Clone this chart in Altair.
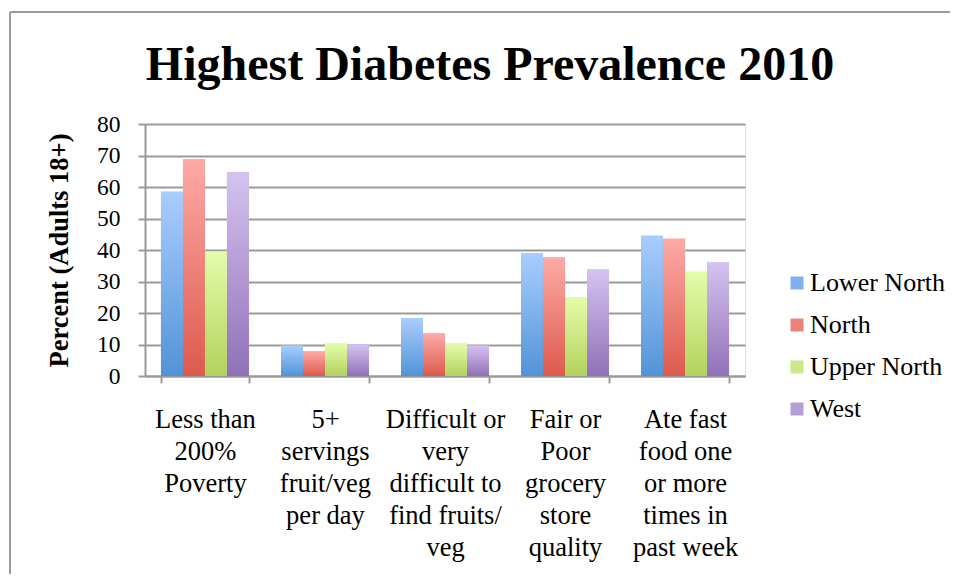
import altair as alt
import pandas as pd

categories = [
    "Less than\n200%\nPoverty",
    "5+\nservings\nfruit/veg\nper day",
    "Difficult or\nvery\ndifficult to\nfind fruits/\nveg",
    "Fair or\nPoor\ngrocery\nstore\nquality",
    "Ate fast\nfood one\nor more\ntimes in\npast week",
]
series = ["Lower North", "North", "Upper North", "West"]
lower_north = [58.5, 9.7, 18.3, 39.0, 44.5]
north = [68.9, 7.8, 13.5, 37.6, 43.6]
upper_north = [39.5, 10.3, 10.3, 24.9, 33.1]
west = [64.8, 10.0, 9.7, 33.8, 36.0]
y_ticks = [0, 10, 20, 30, 40, 50, 60, 70, 80]

solid_colors = ["#7EB1EE", "#EE8179", "#CDE68A", "#B59ED8"]
grad_stops = [
    ("#A9CDFE", "#5293D8"),
    ("#FEAAA7", "#DC5A4C"),
    ("#E5FCAA", "#B3D25D"),
    ("#D5C3F0", "#9170B8"),
]

rows = []
for name, vals in zip(series, [lower_north, north, upper_north, west]):
    for c, v in zip(categories, vals):
        rows.append({"category": c, "region": name, "value": v})
df = pd.DataFrame(rows)

FONT = "Liberation Serif"
GRAY = "#9a9a9a"


def grad(top, bottom):
    return {
        "gradient": "linear",
        "x1": 0, "y1": 0, "x2": 0, "y2": 1,
        "stops": [{"offset": 0, "color": top}, {"offset": 1, "color": bottom}],
    }


x_enc = alt.X(
    "category:N",
    sort=categories,
    scale=alt.Scale(paddingInner=0.267, paddingOuter=0.133),
    axis=alt.Axis(
        title=None,
        labelAngle=0,
        labelExpr="split(datum.label, '\\n')",
        labelFont=FONT,
        labelFontSize=26.5,
        labelLineHeight=32,
        labelColor="black",
        labelPadding=23,
        labelLimit=300,
        tickBand="extent",
        tickSize=7,
        tickColor=GRAY,
        tickWidth=2,
        domainColor=GRAY,
        domainWidth=2,
        grid=False,
    ),
)
xoff_enc = alt.XOffset("region:N", sort=series, scale=alt.Scale(paddingInner=0, paddingOuter=0))
y_enc = alt.Y(
    "value:Q",
    scale=alt.Scale(domain=[0, 80], nice=False),
    axis=alt.Axis(
        values=y_ticks,
        title="Percent (Adults 18+)",
        titleFont=FONT,
        titleFontSize=26.5,
        titleFontWeight="bold",
        titleColor="black",
        titlePadding=23.5,
        labelFont=FONT,
        labelFontSize=23.5,
        labelColor="black",
        labelPadding=18,
        tickSize=7,
        tickColor=GRAY,
        tickWidth=2,
        domainColor=GRAY,
        domainWidth=2,
        gridColor=GRAY,
        gridWidth=2,
    ),
)

solid = alt.Chart(df).mark_bar().encode(
    x=x_enc,
    xOffset=xoff_enc,
    y=y_enc,
    color=alt.Color(
        "region:N",
        sort=series,
        scale=alt.Scale(domain=series, range=solid_colors),
        legend=alt.Legend(
            orient="none",
            legendX=639,
            legendY=146,
            title=None,
            symbolType="square",
            symbolSize=169,
            symbolStrokeWidth=0,
            labelFont=FONT,
            labelFontSize=26,
            labelColor="black",
            labelOffset=0,
            rowPadding=16,
            padding=0,
        ),
    ),
)

conds = [
    {"test": f"datum.region === '{name}'", "value": grad(t, b)}
    for name, (t, b) in zip(series[:-1], grad_stops[:-1])
]
gradient_bars = alt.Chart(df).mark_bar().encode(
    x=x_enc,
    xOffset=xoff_enc,
    y=y_enc,
    fill={"condition": conds, "value": grad(*grad_stops[-1])},
)

frame_df = pd.DataFrame({"k": [0]})
frame_left = alt.Chart(frame_df).mark_rule(color=GRAY, strokeWidth=2).encode(
    x=alt.value(-135), y=alt.value(-112), y2=alt.value(450)
)
frame_top = alt.Chart(frame_df).mark_rule(color=GRAY, strokeWidth=2).encode(
    x=alt.value(-135), x2=alt.value(810), y=alt.value(-112)
)

chart = (
    alt.layer(solid, gradient_bars, frame_left, frame_top)
    .properties(
        width=600,
        height=252,
        autosize=alt.AutoSizeParams(type="none"),
        padding={"left": 137, "top": 116, "right": 205, "bottom": 198},
        title=alt.TitleParams(
            "Highest Diabetes Prevalence 2010",
            font=FONT,
            fontSize=48,
            fontWeight="bold",
            color="black",
            anchor="middle",
            dx=45,
            offset=-117,
            baseline="alphabetic",
        ),
    )
    .configure_view(stroke=None)
    .configure(background="white")
)

chart.save("out.html", embed_options={"renderer": "svg", "actions": False})
